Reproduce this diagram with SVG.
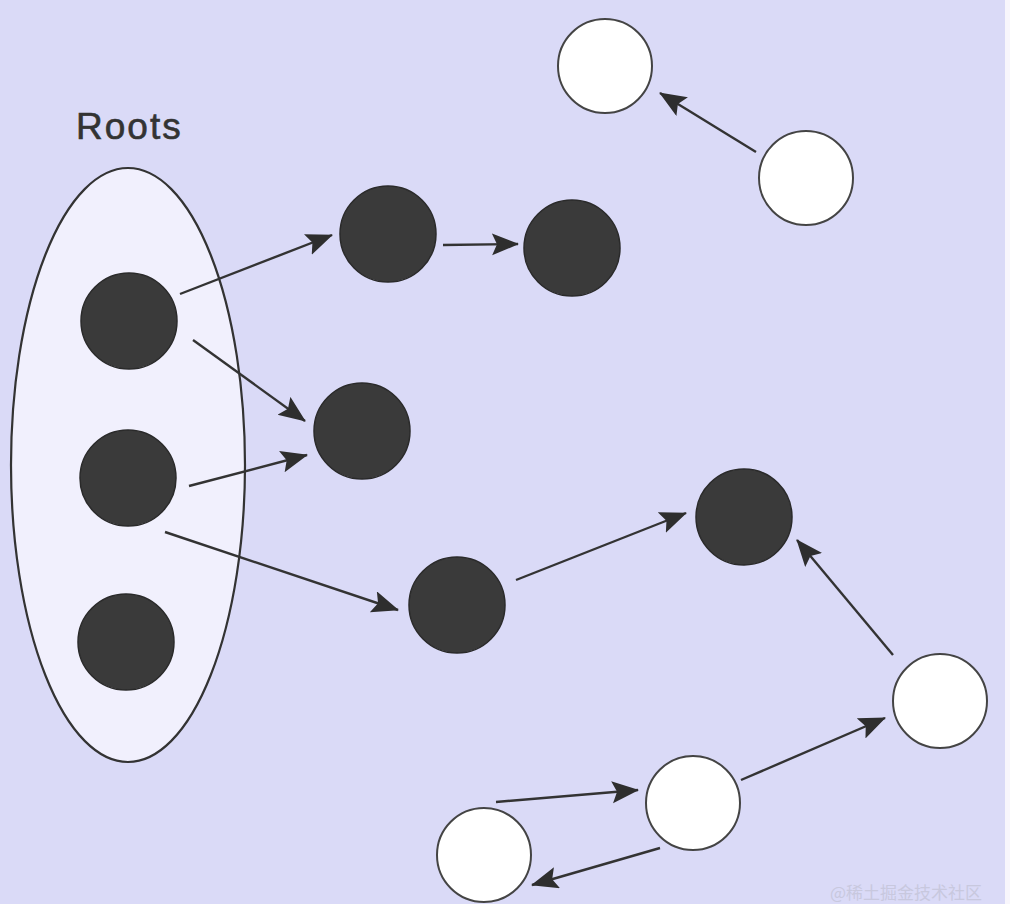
<svg xmlns="http://www.w3.org/2000/svg" width="1010" height="904" viewBox="0 0 1010 904">
<style>
.blk{fill:#3a3a3a;stroke:#2a2a2a;stroke-width:1.5}
.wht{fill:#ffffff;stroke:#444;stroke-width:2}
.edge{stroke:#333;stroke-width:2.4;fill:none;marker-end:url(#ah)}
.lbl{font-family:"Liberation Sans",sans-serif;font-size:37px;fill:#333;letter-spacing:2px;stroke:#333;stroke-width:0.6}
.wm{font-family:"Noto Sans CJK SC",sans-serif;font-size:17px;fill:#c8c8de}
</style>
<defs>
<marker id="ah" markerUnits="userSpaceOnUse" markerWidth="30" markerHeight="24" refX="26" refY="11" orient="auto">
<path d="M0,0 L27,11 L0,22 L5,11 Z" fill="#2e2e2e"/>
</marker>
</defs>
<rect x="0" y="0" width="1010" height="904" fill="#dadaf7"/>
<rect x="1005" y="0" width="5" height="904" fill="#f8f6fc"/>
<g id="roots">
<ellipse cx="128" cy="465" rx="117" ry="297" fill="#f1f0fd" stroke="#333" stroke-width="2.2"/>
<text class="lbl" x="76" y="139">Roots</text>
</g>
<g id="r1"><circle class="blk" cx="129" cy="321" r="48"/></g>
<g id="r2"><circle class="blk" cx="128" cy="478" r="48"/></g>
<g id="r3"><circle class="blk" cx="126" cy="642" r="48"/></g>
<g id="b1"><circle class="blk" cx="388" cy="234" r="48"/></g>
<g id="b2"><circle class="blk" cx="572" cy="248" r="48"/></g>
<g id="b3"><circle class="blk" cx="362" cy="431" r="48"/></g>
<g id="b4"><circle class="blk" cx="457" cy="605" r="48"/></g>
<g id="b5"><circle class="blk" cx="744" cy="517" r="48"/></g>
<g id="w1"><circle class="wht" cx="605" cy="66" r="47"/></g>
<g id="w2"><circle class="wht" cx="806" cy="178" r="47"/></g>
<g id="w3"><circle class="wht" cx="940" cy="701" r="47"/></g>
<g id="w4"><circle class="wht" cx="693" cy="803" r="47"/></g>
<g id="w5"><circle class="wht" cx="484" cy="855" r="47"/></g>
<g id="connectors">
<line class="edge" x1="180" y1="294" x2="332" y2="235"/>
<line class="edge" x1="443" y1="245" x2="518" y2="244"/>
<line class="edge" x1="193" y1="340" x2="305" y2="421"/>
<line class="edge" x1="189" y1="486" x2="307" y2="455"/>
<line class="edge" x1="165" y1="532" x2="398" y2="610"/>
<line class="edge" x1="516" y1="580" x2="686" y2="513"/>
<line class="edge" x1="893" y1="655" x2="797" y2="540"/>
<line class="edge" x1="741" y1="780" x2="885" y2="718"/>
<line class="edge" x1="496" y1="802" x2="638" y2="790"/>
<line class="edge" x1="660" y1="848" x2="532" y2="885"/>
<line class="edge" x1="756" y1="152" x2="660" y2="93"/>
</g>
<text class="wm" x="830" y="899">@稀土掘金技术社区</text>
</svg>
